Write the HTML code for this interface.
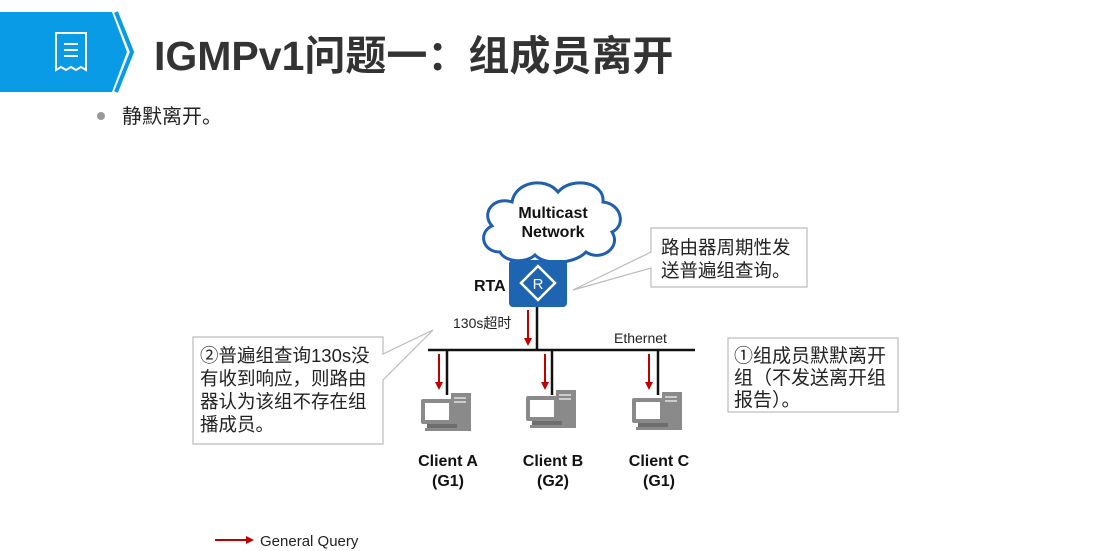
<!DOCTYPE html>
<html><head><meta charset="utf-8"><style>
body{margin:0;width:1096px;height:551px;background:#fff;overflow:hidden;font-family:"Liberation Sans","Noto Sans CJK SC",sans-serif;}
</style></head><body>
<svg width="1096" height="551" xmlns="http://www.w3.org/2000/svg" style="position:absolute;left:0;top:0">
<defs>
<marker id="ar" markerWidth="8" markerHeight="8" refX="6" refY="4" orient="auto" markerUnits="userSpaceOnUse"><path d="M0,0 L8,4 L0,8 z" fill="#c00000"/></marker>
<g id="pc">
<rect x="0" y="6" width="32" height="25" rx="2" fill="#8a8a8a"/>
<rect x="4" y="10" width="24" height="17" fill="#fff"/>
<rect x="30" y="0" width="20" height="38" fill="#8a8a8a"/>
<rect x="33" y="4" width="12" height="2" fill="#ccc"/>
<rect x="33" y="8" width="12" height="2" fill="#ccc"/>
<rect x="6" y="31" width="30" height="4" fill="#6e6e6e"/>
<rect x="4" y="35" width="38" height="3" fill="#8a8a8a"/>
</g>
</defs>
<polygon points="0,12 112,12 127,52 112,92 0,92" fill="#0a9be6"/>
<polyline points="116,12 132,52 116,92" fill="none" stroke="#0a9be6" stroke-width="4"/>
<g fill="none" stroke="#fff" stroke-width="2">
<path d="M56,33 h30 v37 l-5,-3 l-5,3 l-5,-3 l-5,3 l-5,-3 l-5,3 z"/>
<path d="M64,44 h14 M64,50 h14 M64,56 h14"/>
</g>
<text x="154" y="70" font-size="41" font-weight="bold" fill="#333">IGMPv1问题一：组成员离开</text>
<circle cx="101" cy="116" r="4" fill="#999"/>
<text x="122" y="123" font-size="20" fill="#222">静默离开。</text>

<path d="M500,252 C482,252 478,232 492,226 C480,212 495,196 512,202 C515,182 545,176 558,192 C572,176 605,182 603,202 C622,204 626,226 612,232 C622,248 600,262 586,252 C575,264 545,266 535,255 C525,264 505,262 500,252 z" fill="#fff" stroke="#1f5fae" stroke-width="3"/>
<text x="553" y="218" font-size="16" font-weight="bold" text-anchor="middle" fill="#111">Multicast</text>
<text x="553" y="237" font-size="16" font-weight="bold" text-anchor="middle" fill="#111">Network</text>
<rect x="509" y="260" width="58" height="47" rx="4" fill="#1e64b0"/>
<polygon points="538,266 555,283 538,300 521,283" fill="none" stroke="#fff" stroke-width="2.5"/>
<text x="538" y="289" font-size="15" text-anchor="middle" fill="#fff">R</text>
<text x="474" y="291" font-size="16" font-weight="bold" fill="#111">RTA</text>

<g stroke="#111" stroke-width="2.5">
<line x1="537" y1="307" x2="537" y2="350"/>
<line x1="428" y1="350" x2="695" y2="350"/>
<line x1="447" y1="350" x2="447" y2="395"/>
<line x1="552" y1="350" x2="552" y2="395"/>
<line x1="658" y1="350" x2="658" y2="395"/>
</g>
<g stroke="#c00000" stroke-width="2" marker-end="url(#ar)">
<line x1="528" y1="310" x2="528" y2="344"/>
<line x1="439" y1="354" x2="439" y2="388"/>
<line x1="545" y1="354" x2="545" y2="388"/>
<line x1="649" y1="354" x2="649" y2="388"/>
</g>
<text x="453" y="328" font-size="14" fill="#222">130s超时</text>
<text x="614" y="343" font-size="14" fill="#222">Ethernet</text>

<use href="#pc" x="421" y="393"/>
<use href="#pc" x="526" y="390"/>
<use href="#pc" x="632" y="392"/>
<g font-size="16" font-weight="bold" text-anchor="middle" fill="#111">
<text x="448" y="466">Client A</text><text x="448" y="486">(G1)</text>
<text x="553" y="466">Client B</text><text x="553" y="486">(G2)</text>
<text x="659" y="466">Client C</text><text x="659" y="486">(G1)</text>
</g>

<path d="M651,228 H807 V287 H651 V268 L573,290 L651,252 Z" fill="#fff" stroke="#bbb" stroke-width="1.2"/>
<text x="661" y="254" font-size="18.5" fill="#222">路由器周期性发</text>
<text x="661" y="277" font-size="18.5" fill="#222">送普遍组查询。</text>

<path d="M193,337 H383 V354 L433,330 L383,380 V444 H193 Z" fill="#fff" stroke="#bbb" stroke-width="1.2"/>
<g font-size="18.5" fill="#222">
<text x="200" y="362">②普遍组查询130s没</text>
<text x="200" y="385">有收到响应，则路由</text>
<text x="200" y="408">器认为该组不存在组</text>
<text x="200" y="431">播成员。</text>
</g>

<rect x="728" y="338" width="170" height="74" fill="#fff" stroke="#bbb" stroke-width="1.2"/>
<g font-size="19" fill="#222">
<text x="734" y="362">①组成员默默离开</text>
<text x="734" y="384">组（不发送离开组</text>
<text x="734" y="406">报告）。</text>
</g>

<line x1="215" y1="540" x2="252" y2="540" stroke="#c00000" stroke-width="2" marker-end="url(#ar)"/>
<text x="260" y="546" font-size="15" fill="#222">General Query</text>
</svg>
</body></html>
